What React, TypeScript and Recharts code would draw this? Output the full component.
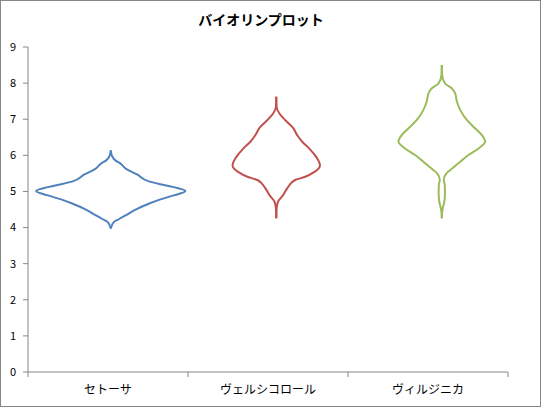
import React from "react";
import { ScatterChart, Scatter, XAxis, YAxis } from "recharts";

const categories = ["セトーサ", "ヴェルシコロール", "ヴィルジニカ"];
const colors = ["#4F81BD", "#C0504D", "#9BBB59"];
const yTicks = [0, 1, 2, 3, 4, 5, 6, 7, 8, 9];
const catTicks = [0, 0.5, 1, 1.5, 2, 2.5, 3];

// violin outlines: sepal length levels (top to bottom) and half-widths
const setosaY = [6.14, 6.0, 5.86, 5.77, 5.61, 5.47, 5.28, 5.2, 5.12, 5.01, 4.89, 4.78, 4.66, 4.52, 4.36, 4.23, 4.15, 3.97];
const setosaW = [0, 0.006, 0.028, 0.059, 0.098, 0.159, 0.23, 0.3, 0.38, 0.451, 0.38, 0.3, 0.23, 0.159, 0.098, 0.048, 0.018, 0];

const versicolorY = [7.62, 7.34, 7.15, 6.97, 6.78, 6.55, 6.37, 6.18, 5.95, 5.72, 5.54, 5.4, 5.31, 5.12, 4.89, 4.71, 4.52, 4.26];
const versicolorW = [0, 0.002, 0.02, 0.055, 0.098, 0.128, 0.158, 0.201, 0.242, 0.264, 0.231, 0.171, 0.111, 0.071, 0.04, 0.01, 0.002, 0];

const virginicaY = [8.5, 8.22, 7.99, 7.86, 7.72, 7.49, 7.26, 6.98, 6.75, 6.56, 6.38, 6.19, 6.01, 5.78, 5.59, 5.5, 5.32, 5.18, 4.95, 4.71, 4.58, 4.43, 4.26];
const virginicaW = [0, 0.002, 0.02, 0.06, 0.08, 0.091, 0.111, 0.151, 0.201, 0.242, 0.262, 0.222, 0.161, 0.101, 0.05, 0.028, 0.012, 0.018, 0.019, 0.015, 0.008, 0.002, 0];

const violins = [
  { ys: setosaY, ws: setosaW },
  { ys: versicolorY, ws: versicolorW },
  { ys: virginicaY, ws: virginicaW },
];

const font = "'Noto Sans CJK JP', 'Noto Sans', sans-serif";
const axisColor = "#868686";

const CatTick = (props: any) => {
  const { x, y, payload } = props;
  const v = payload.value;
  if (Number.isInteger(v)) {
    return <line x1={x} y1={y} x2={x} y2={y + 5} stroke={axisColor} />;
  }
  return (
    <text x={x} y={y + 22} textAnchor="middle" fontSize={12} fill="#000" fontFamily={font}>
      {categories[Math.floor(v)]}
    </text>
  );
};

const NoDot = () => <g />;

// category slots so the category axis has data of its own
const catData = categories.map((c, i) => ({ x: i + 0.5, y: 0, name: c }));

const App = () => {
  const halves: { key: string; color: string; pts: { x: number; y: number }[] }[] = [];
  violins.forEach((v, i) => {
    const cx = i + 0.5;
    halves.push({ key: `r${i}`, color: colors[i], pts: v.ys.map((y, j) => ({ x: cx + v.ws[j], y })) });
    halves.push({ key: `l${i}`, color: colors[i], pts: v.ys.map((y, j) => ({ x: cx - v.ws[j], y })) });
  });

  return (
    <div style={{ position: "absolute", left: 0, top: 0, width: 541, height: 407, background: "#fff", fontFamily: font }}>
      <div
        style={{
          position: "absolute",
          left: 0,
          top: 9,
          width: 522,
          textAlign: "center",
          fontSize: 14,
          fontWeight: "bold",
          lineHeight: "20px",
        }}
      >
        バイオリンプロット
      </div>
      <ScatterChart width={541} height={407} margin={{ top: 47, right: 33, bottom: 5, left: 8 }}>
        <XAxis xAxisId="v" dataKey="x" type="number" domain={[0, 2.9]} hide />
        <XAxis
          xAxisId="cat"
          dataKey="x"
          type="number"
          domain={[0, 3]}
          ticks={catTicks}
          interval={0}
          tickLine={false}
          tickSize={0}
          tickMargin={0}
          height={30}
          axisLine={{ stroke: axisColor }}
          tick={<CatTick />}
        />
        <YAxis
          dataKey="y"
          type="number"
          domain={[0, 9]}
          ticks={yTicks}
          interval={0}
          width={20}
          tickSize={5}
          tickMargin={7}
          axisLine={{ stroke: axisColor }}
          tickLine={{ stroke: axisColor }}
          tick={{ fontSize: 11, fill: "#000", fontFamily: font }}
        />
        <Scatter xAxisId="cat" data={catData} shape={NoDot} isAnimationActive={false} />
        {halves.map((h) => (
          <Scatter
            key={h.key}
            xAxisId="v"
            data={h.pts}
            fill={h.color}
            line={{ stroke: h.color, strokeWidth: 2 }}
            lineJointType="monotoneY"
            shape={NoDot}
            isAnimationActive={false}
          />
        ))}
      </ScatterChart>
      <div
        style={{
          position: "absolute",
          left: 0,
          top: 0,
          width: 541,
          height: 407,
          boxSizing: "border-box",
          border: `1px solid ${axisColor}`,
          pointerEvents: "none",
        }}
      />
    </div>
  );
};

export default App;
